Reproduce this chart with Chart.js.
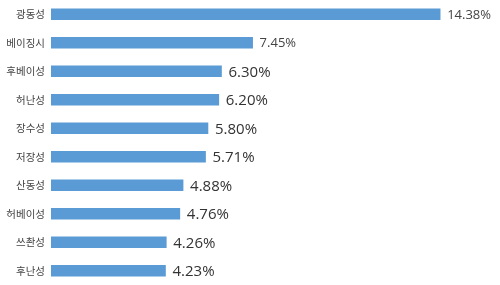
<!DOCTYPE html>
<html>
<head>
<meta charset="utf-8">
<script src="https://cdn.jsdelivr.net/npm/chart.js@4"></script>
<style>
  html, body { margin: 0; padding: 0; background: #fff; }
  #wrap { width: 500px; height: 285px; position: relative; }
</style>
</head>
<body>
<div id="wrap"><canvas id="myChart"></canvas></div>
<script>
// provinces, top to bottom
var provinces = ['광동성', '베이징시', '후베이성', '허난성', '장수성', '저장성', '산동성', '허베이성', '쓰촨성', '후난성'];
var shares    = [14.38, 7.45, 6.30, 6.20, 5.80, 5.71, 4.88, 4.76, 4.26, 4.23];
var shareText = ['14.38%', '7.45%', '6.30%', '6.20%', '5.80%', '5.71%', '4.88%', '4.76%', '4.26%', '4.23%'];

// value labels at the end of each bar
var endLabels = {
	id: 'endLabels',
	afterDatasetsDraw: function(chart) {
		var ctx = chart.ctx;
		var meta = chart.getDatasetMeta(0);
		ctx.save();
		ctx.textBaseline = 'middle';
		ctx.textAlign = 'left';
		meta.data.forEach(function(bar, i) {
			var size = i < 2 ? 13 : 15;
			ctx.font = size + 'px "Open Sans", "Noto Sans", sans-serif';
			ctx.fillStyle = i < 2 ? '#444' : '#333';
			ctx.fillText(shareText[i], bar.x + 7, bar.y + 1);
		});
		ctx.restore();
	}
};

var ctx = document.getElementById('myChart').getContext('2d');
new Chart(ctx, {
	type: 'bar',
	data: {
		labels: provinces,
		datasets: [{
			data: shares,
			backgroundColor: '#5b9bd5',
			borderWidth: 0,
			barThickness: 11
		}]
	},
	options: {
		indexAxis: 'y',
		responsive: true,
		maintainAspectRatio: false,
		animation: false,
		layout: { padding: { left: 0, right: 16, top: 0, bottom: 0 } },
		plugins: {
			legend: { display: false },
			tooltip: { enabled: false }
		},
		scales: {
			x: {
				display: false,
				min: 0,
				max: 16
			},
			y: {
				afterFit: function(axis) {
					axis.width = 51;
					axis.paddingTop = 0;
					axis.paddingBottom = 0;
				},
				grid: { display: false, drawTicks: false },
				border: { display: false },
				ticks: {
					padding: 6,
					color: '#444',
					font: { size: 10.5, family: '"Noto Sans CJK KR", sans-serif' }
				}
			}
		}
	},
	plugins: [endLabels]
});
</script>
</body>
</html>
